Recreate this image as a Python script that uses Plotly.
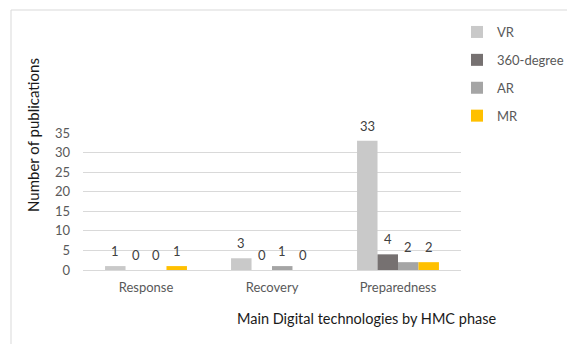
import plotly.graph_objects as go

# Publication counts per HMC phase and technology
phases = ["Response", "Recovery", "Preparedness"]
vr = [1, 3, 33]
deg360 = [0, 0, 4]
ar = [0, 1, 2]
mr = [1, 0, 2]

series = [
    ("VR", vr, "#C9C9C9"),
    ("360-degree", deg360, "#767171"),
    ("AR", ar, "#A5A5A5"),
    ("MR", mr, "#FFC000"),
]

W, H = 567, 344
ML, MR_, MT, MB = 83, 106, 133, 74
plot_w = W - ML - MR_
plot_h = H - MT - MB

FONT = "Lato"

fig = go.Figure()
for i, (name, vals, color) in enumerate(series):
    fig.add_trace(go.Bar(
        x=phases, y=vals, name=name, marker_color=color,
        marker_line_width=0, legendgroup=name,
    ))

# value labels above each bar
cat_w = plot_w / len(phases)
bar_w = cat_w * 0.65 / len(series)
for i, (name, vals, color) in enumerate(series):
    for j, v in enumerate(vals):
        fig.add_annotation(
            x=phases[j], y=v, text=str(v), showarrow=False,
            xref="x", yref="y",
            xshift=(i - (len(series) - 1) / 2) * bar_w,
            yshift=15, xanchor="center", yanchor="middle",
            font=dict(family=FONT, size=13, color="#404040"),
        )

def px_to_paper_x(px):
    return (px - ML) / plot_w

def px_to_paper_y(py):
    return (H - MB - py) / plot_h

# y axis title
fig.add_annotation(
    x=px_to_paper_x(33), y=px_to_paper_y(135), xref="paper", yref="paper",
    xanchor="center", yanchor="middle",
    text="Number of publications", textangle=-90, showarrow=False,
    font=dict(family=FONT, size=15, color="#1a1a1a"),
)
# x axis title
fig.add_annotation(
    x=px_to_paper_x(366), y=px_to_paper_y(318), xref="paper", yref="paper",
    xanchor="center", yanchor="middle",
    text="Main Digital technologies by HMC phase", showarrow=False,
    font=dict(family=FONT, size=14.5, color="#1a1a1a"),
)

# outer frame
fig.add_shape(
    type="rect", xref="paper", yref="paper",
    x0=px_to_paper_x(11), y0=px_to_paper_y(360),
    x1=px_to_paper_x(600), y1=px_to_paper_y(10),
    line=dict(color="#D9D9D9", width=1), layer="below",
)

fig.update_layout(
    width=W, height=H,
    margin=dict(l=ML, r=MR_, t=MT, b=MB, autoexpand=False),
    paper_bgcolor="white", plot_bgcolor="white",
    barmode="group", bargap=0.35, bargroupgap=0,
    font=dict(family=FONT, size=13, color="#595959"),
    showlegend=True,
    legend=dict(
        x=px_to_paper_x(457), y=px_to_paper_y(17),
        xanchor="left", yanchor="top",
        traceorder="grouped", tracegroupgap=8,
        itemwidth=30,
        font=dict(family=FONT, size=13, color="#595959"),
        bgcolor="rgba(0,0,0,0)",
    ),
    xaxis=dict(
        showgrid=False, showline=False, ticks="",
        ticklabelstandoff=8,
        tickfont=dict(family=FONT, size=13, color="#595959"),
    ),
    yaxis=dict(
        range=[0, 35], dtick=5, showgrid=True, gridcolor="#D9D9D9",
        gridwidth=1, zeroline=True, zerolinecolor="#D9D9D9",
        zerolinewidth=1, showline=False, ticks="",
        ticklabelstandoff=12,
        tickfont=dict(family=FONT, size=13, color="#595959"),
    ),
)

fig.write_html("out.html")
